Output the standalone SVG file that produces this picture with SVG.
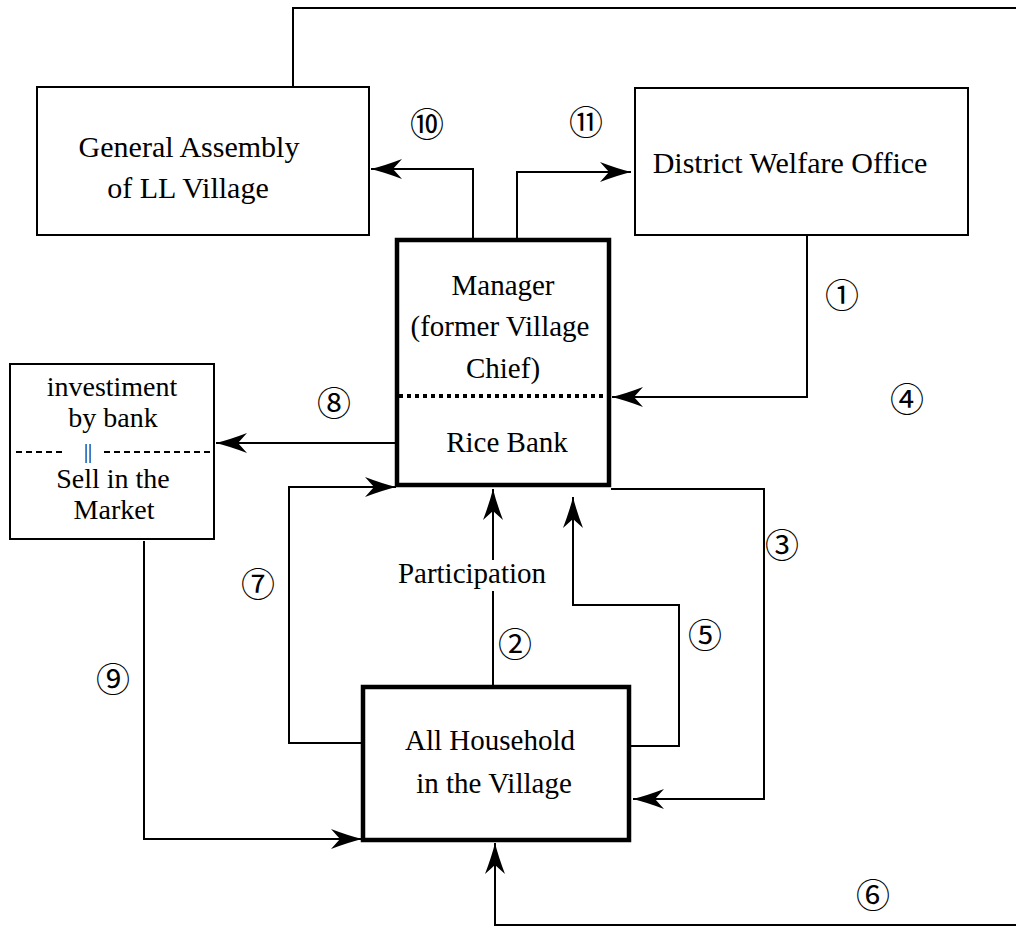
<svg xmlns="http://www.w3.org/2000/svg" width="1016" height="935" viewBox="0 0 1016 935">
<defs>
<style>
.box{fill:#fff;stroke:#000;stroke-width:2}
.thick{fill:#fff;stroke:#000;stroke-width:4.5}
.ln{fill:none;stroke:#000;stroke-width:2}
.arr{fill:none;stroke:#000;stroke-width:2;marker-end:url(#ah)}
.t{font-family:"Liberation Serif","Times New Roman",serif;font-size:29px;text-anchor:middle;fill:#000}
.t30{font-size:30px}
.t28{font-size:28px}
.num{font-family:"Noto Sans CJK JP","DejaVu Sans",sans-serif;font-size:34px;text-anchor:middle;dominant-baseline:central;fill:#000}
</style>
<marker id="ah" markerUnits="userSpaceOnUse" markerWidth="34" markerHeight="24" viewBox="-32 -12 34 24" refX="0" refY="0" orient="auto">
<path d="M0,0 Q-14,-3.5 -31,-10 L-22,0 L-31,10 Q-14,3.5 0,0 Z" fill="#000"/>
</marker>
</defs>
<rect width="1016" height="935" fill="#fff"/>

<g id="connectors">
<polyline class="ln" points="293,87 293,8 1016,8" stroke-width="2.5"/>
<polyline class="arr" points="473,240 473,169 371,169"/>
<polyline class="arr" points="517,240 517,172 631,172"/>
<polyline class="arr" points="807,235 807,397 612,397"/>
<polyline class="arr" points="397,443 216,443"/>
<polyline class="arr" points="363,743 289,743 289,487 396,487"/>
<line class="ln" x1="493" y1="687" x2="493" y2="591"/>
<polyline class="arr" points="493,560 493,489"/>
<polyline class="arr" points="629,746 679,746 679,605 573,605 573,497"/>
<polyline class="arr" points="611,489 764,489 764,799 633,799"/>
<polyline class="arr" points="144,541 144,839 362,839"/>
<polyline class="arr" points="1016,925 495,925 495,843"/>
</g>

<g id="general-assembly">
<rect class="box" x="37" y="87" width="332" height="148"/>
<text class="t t30" x="189" y="157">General Assembly</text>
<text class="t t30" x="188" y="198">of LL Village</text>
</g>

<g id="district-welfare-office">
<rect class="box" x="635" y="88" width="333" height="147"/>
<text class="t t30" x="790" y="173">District Welfare Office</text>
</g>

<g id="manager-rice-bank">
<rect class="thick" x="397" y="240" width="212" height="245"/>
<line x1="399" y1="396" x2="607" y2="396" stroke="#000" stroke-width="4" stroke-dasharray="4 4"/>
<text class="t" x="503" y="295">Manager</text>
<text class="t" x="500" y="336">(former Village</text>
<text class="t" x="503" y="378">Chief)</text>
<text class="t" x="507" y="452">Rice Bank</text>
</g>

<g id="investment-market">
<rect class="box" x="10" y="364" width="204" height="175"/>
<line x1="16" y1="452" x2="64" y2="452" stroke="#000" stroke-width="2" stroke-dasharray="6 4"/>
<line x1="104" y1="452" x2="213" y2="452" stroke="#000" stroke-width="2" stroke-dasharray="6 4"/>
<text class="t t28" x="112" y="396">investiment</text>
<text class="t t28" x="113" y="427">by bank</text>
<text class="t" x="88" y="458" style="font-size:20px">||</text>
<text class="t t28" x="113" y="488">Sell in the</text>
<text class="t t28" x="114" y="519">Market</text>
</g>

<g id="all-household">
<rect class="thick" x="363" y="687" width="266" height="153"/>
<text class="t" x="490" y="750">All Household</text>
<text class="t" x="494" y="793">in the Village</text>
</g>

<g id="labels">
<text class="t" x="472" y="583">Participation</text>
<text class="num" x="842" y="293">①</text>
<text class="num" x="515" y="642">②</text>
<text class="num" x="782" y="543">③</text>
<text class="num" x="907" y="397">④</text>
<text class="num" x="705" y="633">⑤</text>
<text class="num" x="873" y="893">⑥</text>
<text class="num" x="258" y="582">⑦</text>
<text class="num" x="334" y="401">⑧</text>
<text class="num" x="113" y="677">⑨</text>
<text class="num" x="427" y="122">⑩</text>
<text class="num" x="586" y="120">⑪</text>
</g>
</svg>
